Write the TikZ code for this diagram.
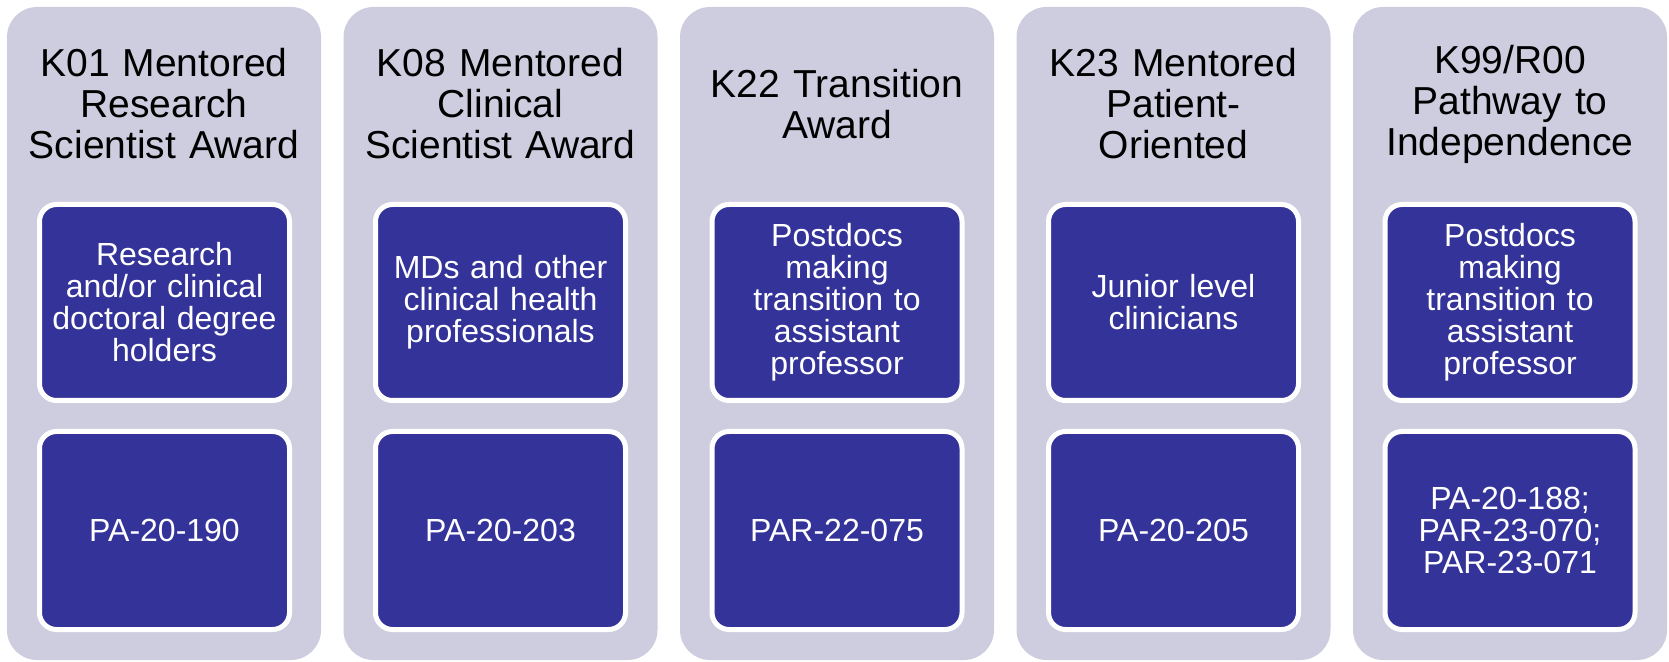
\documentclass[tikz,border=0pt]{standalone}
\usepackage{fontspec}
\setmainfont{Liberation Sans}
\usepackage{tikz}
\usetikzlibrary{calc}
\definecolor{lavender}{RGB}{206,205,224}
\definecolor{navy}{RGB}{51,51,153}

\begin{document}
\begin{tikzpicture}
		[x=1pt,y=1pt]
		\tikzstyle{column}=[rectangle, rounded corners=30pt, fill=lavender,
		inner sep=0pt, minimum width=314pt, minimum height=653pt]
		\tikzstyle{heading}=[align=center, text width=306pt, inner sep=0pt,
		font=\fontsize{39}{41}\selectfont]
		\tikzstyle{card}=[rectangle, rounded corners=17pt, draw=white, line width=5pt,
		fill=navy, text=white, align=center, text width=240pt, inner sep=0pt,
		minimum width=250pt, font=\fontsize{32}{32}\selectfont]
		\useasboundingbox (0,0) rectangle (1669,661);
		%-----columns
		 \node[column]  (colK01) at (164,327.5) {};
		 \node[column]  (colK08) at (500.5,327.5) {};
		 \node[column]  (colK22) at (837,327.5) {};
		 \node[column]  (colK23) at (1173.5,327.5) {};
		 \node[column]  (colK99) at (1510,327.5) {};
		%-----headings
		 \node[heading]  (headK01) at (164,557) {K01 Mentored\\Research\\Scientist Award};
		 \node[heading]  (headK08) at (500.5,557) {K08 Mentored\\Clinical\\Scientist Award};
		 \node[heading]  (headK22) at (837,557) {K22 Transition\\Award};
		 \node[heading]  (headK23) at (1173.5,557) {K23 Mentored\\Patient-\\Oriented};
		 \node[heading]  (headK99) at (1510,557) {K99/R00\\Pathway to\\Independence};
		%-----who
		 \node[card, minimum height=196pt]  (whoK01) at (164.5,358.5) {Research\\and/or clinical\\doctoral degree\\holders};
		 \node[card, minimum height=196pt]  (whoK08) at (500.5,358.5) {MDs and other\\clinical health\\professionals};
		 \node[card, minimum height=196pt]  (whoK22) at (837,358.5) {Postdocs\\making\\transition to\\assistant\\professor};
		 \node[card, minimum height=196pt]  (whoK23) at (1173.5,358.5) {Junior level\\clinicians};
		 \node[card, minimum height=196pt]  (whoK99) at (1510,358.5) {Postdocs\\making\\transition to\\assistant\\professor};
		%-----announcements
		 \node[card, minimum height=198pt]  (paK01) at (164.5,130.5) {PA-20-190};
		 \node[card, minimum height=198pt]  (paK08) at (500.5,130.5) {PA-20-203};
		 \node[card, minimum height=198pt]  (paK22) at (837,130.5) {PAR-22-075};
		 \node[card, minimum height=198pt]  (paK23) at (1173.5,130.5) {PA-20-205};
		 \node[card, minimum height=198pt]  (paK99) at (1510,130.5) {PA-20-188;\\PAR-23-070;\\PAR-23-071};
\end{tikzpicture}
\end{document}
